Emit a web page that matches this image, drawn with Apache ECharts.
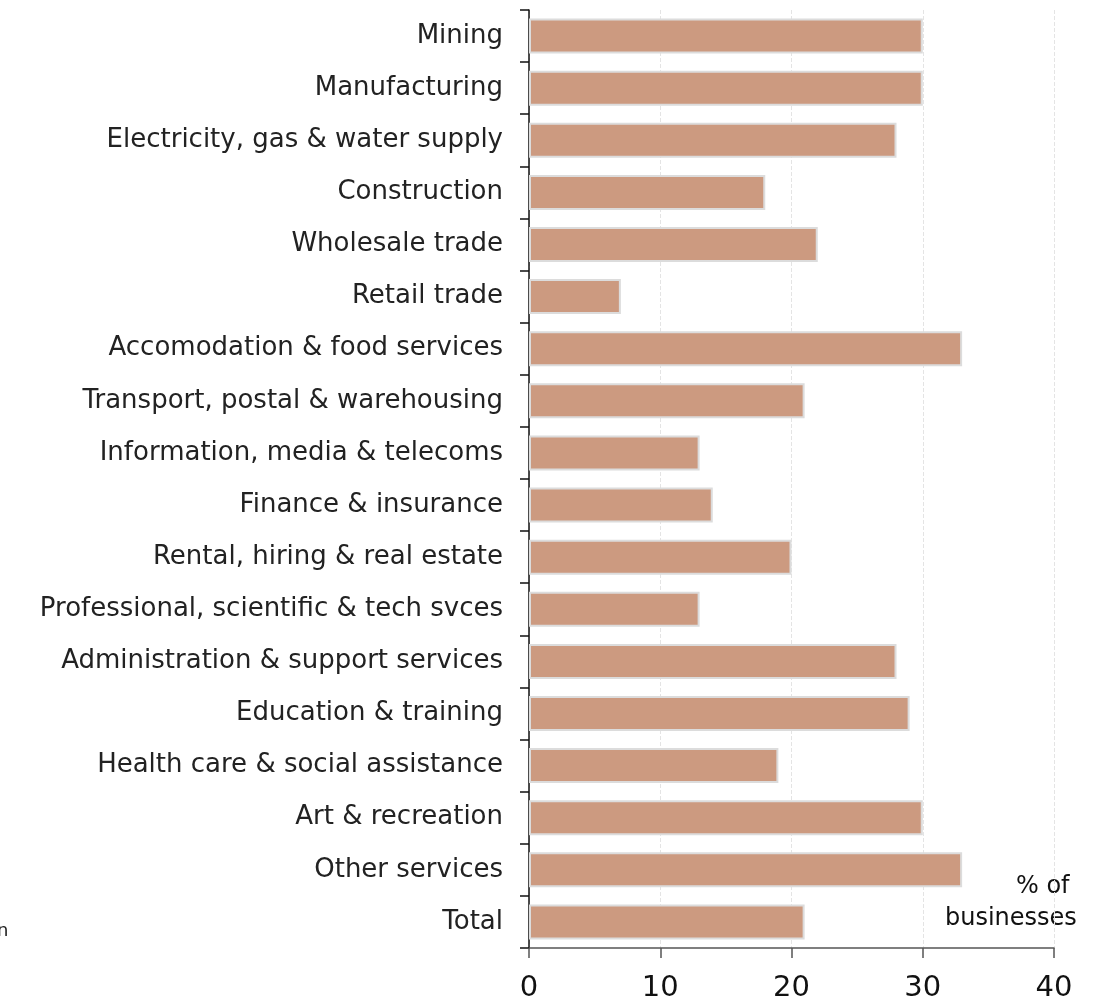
<!DOCTYPE html>
<html><head><meta charset="utf-8">
<script src="https://cdn.jsdelivr.net/npm/echarts@6/dist/echarts.min.js"></script>
<style>html,body{margin:0;padding:0;background:#fff}#c{width:1099px;height:1003px}</style>
</head><body><div id="c"></div>
<script>
const categories = ["Mining","Manufacturing","Electricity, gas & water supply","Construction","Wholesale trade","Retail trade","Accomodation & food services","Transport, postal & warehousing","Information, media & telecoms","Finance & insurance","Rental, hiring & real estate","Professional, scientific & tech svces","Administration & support services","Education & training","Health care & social assistance","Art & recreation","Other services","Total"];
const values = [30,30,28,18,22,7,33,21,13,14,20,13,28,29,19,30,33,21];
const xTicks = [0,10,20,30,40];
const unitLines = ["% of","businesses"];
const FONT = "DejaVu Sans";
const chart = echarts.init(document.getElementById('c'));
chart.setOption({
  animation:false,
  grid:{left:529,right:45,top:10,bottom:54,containLabel:false},
  xAxis:{type:'value',min:xTicks[0],max:xTicks[xTicks.length-1],interval:10,
    axisLine:{show:true,lineStyle:{color:'#555',width:1.5}},
    axisTick:{show:true,length:10,lineStyle:{color:'#555',width:1.5}},
    axisLabel:{fontFamily:FONT,fontSize:29,color:'#111',margin:26},
    splitLine:{show:true,lineStyle:{color:'#e4e4e4',type:'dashed',width:1}}},
  yAxis:{type:'category',data:categories,inverse:true,
    axisLine:{show:true,lineStyle:{color:'#111',width:1.5}},
    axisTick:{show:true,length:9,lineStyle:{color:'#111',width:1.5}},
    axisLabel:{fontFamily:FONT,fontSize:26,color:'#222',margin:26},
    splitLine:{show:false}},
  series:[{type:'bar',data:values,barWidth:35,
    itemStyle:{color:'#cc9a80',borderColor:'#dcdcdc',borderWidth:2}}],
  graphic:[
    {type:'text',left:1016,top:875,style:{text:unitLines[0],font:'24px '+FONT,fill:'#111'}},
    {type:'text',left:945,top:907,style:{text:unitLines[1],font:'24px '+FONT,fill:'#111'}},
    {type:'text',left:-3,top:922,style:{text:'n',font:'18px '+FONT,fill:'#222'}}
  ]
});
</script></body></html>
